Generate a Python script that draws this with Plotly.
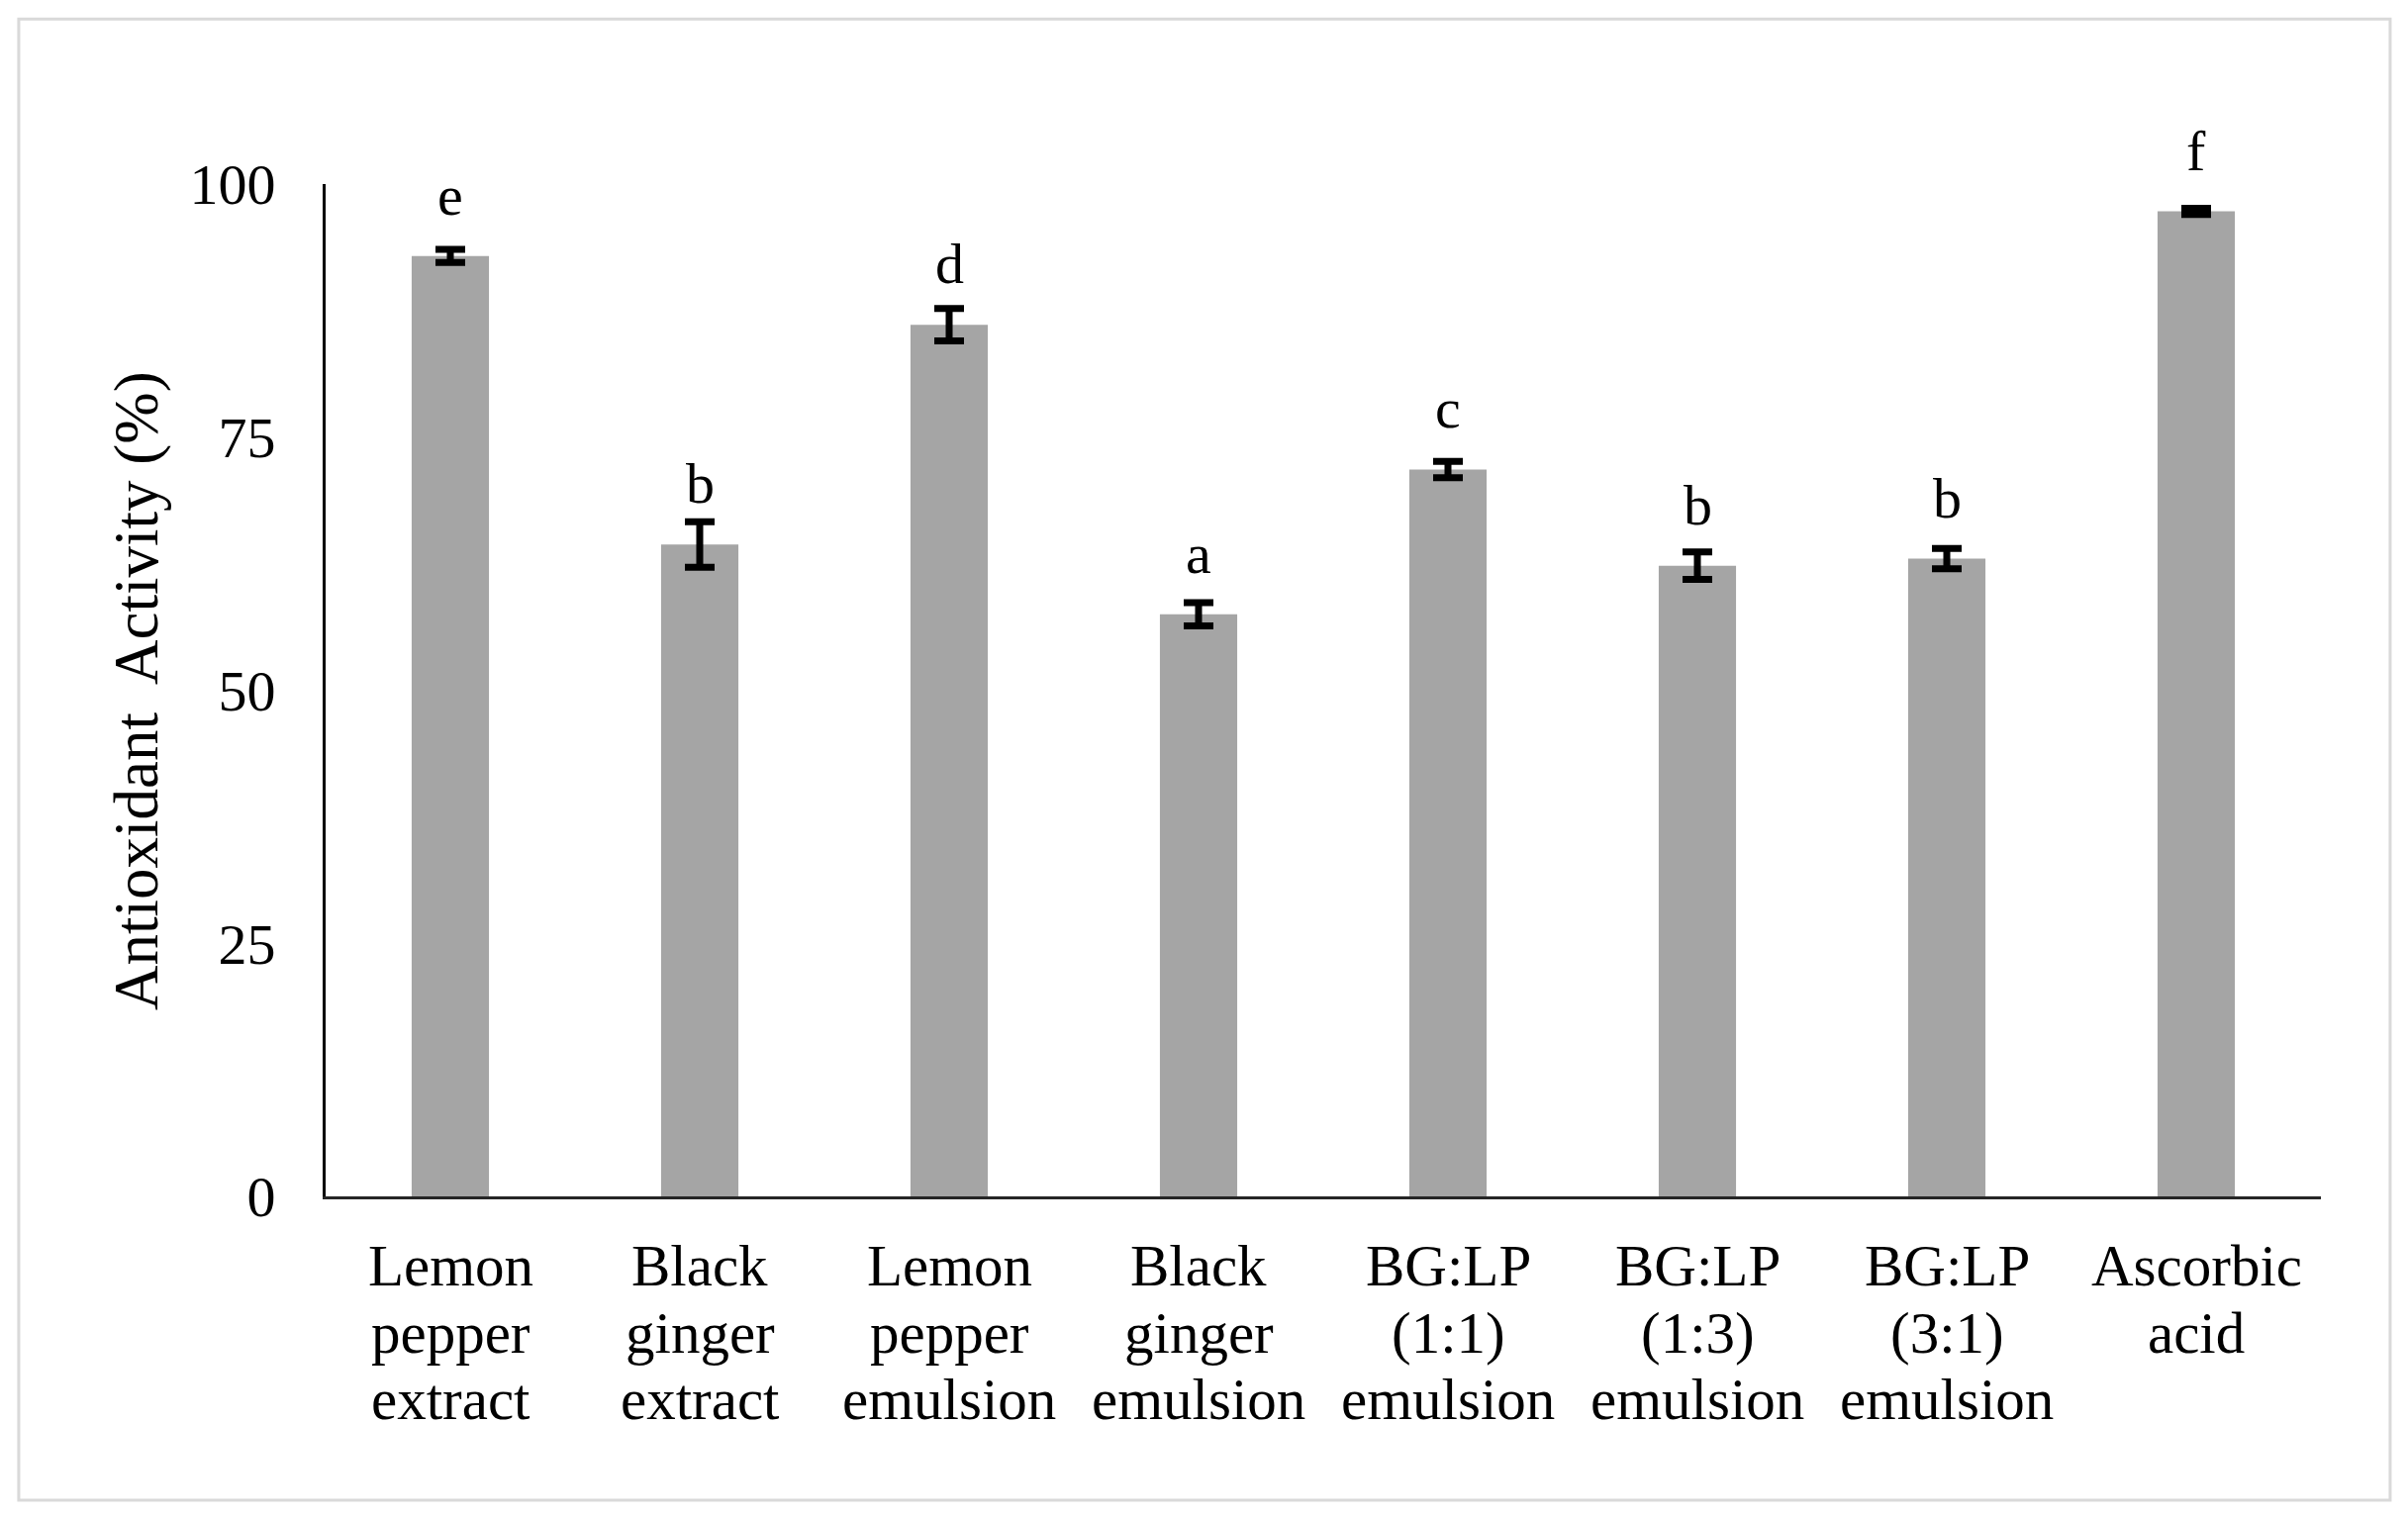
import plotly.graph_objects as go

categories = [
    "Lemon<br>pepper<br>extract",
    "Black<br>ginger<br>extract",
    "Lemon<br>pepper<br>emulsion",
    "Black<br>ginger<br>emulsion",
    "BG:LP<br>(1:1)<br>emulsion",
    "BG:LP<br>(1:3)<br>emulsion",
    "BG:LP<br>(3:1)<br>emulsion",
    "Ascorbic<br>acid",
]
activity = [92.9, 64.4, 86.1, 57.5, 71.8, 62.3, 63.0, 97.3]
errors = [0.65, 2.25, 1.6, 1.15, 0.8, 1.35, 1.0, 0.3]
letters = ["e", "b", "d", "a", "c", "b", "b", "f"]
y_ticks = [0, 25, 50, 75, 100]

FONT = "Liberation Serif, Times New Roman, serif"

fig = go.Figure()
fig.add_trace(go.Bar(
    x=categories,
    y=activity,
    marker=dict(color="#a5a5a5", line=dict(width=0)),
    error_y=dict(type="data", array=errors, visible=True,
                 color="#000000", thickness=7, width=15),
    showlegend=False,
))

# significance letters above the bars
for cat, val, let in zip(categories, activity, letters):
    fig.add_annotation(x=cat, y=val, text=let, showarrow=False,
                       xref="x", yref="y", yanchor="bottom",
                       yshift=27, font=dict(family=FONT, size=58, color="#000"))

# category labels, one line per annotation for tighter line spacing
for cat in categories:
    for i, line in enumerate(cat.split("<br>")):
        fig.add_annotation(x=cat, y=0, text=line, showarrow=False,
                           xref="x", yref="paper", xanchor="center",
                           yanchor="middle", yshift=-(70 + i * 67.5),
                           font=dict(family=FONT, size=59, color="#000"))

fig.add_annotation(text="Antioxidant  Activity (%)", textangle=-90,
                   xref="paper", yref="paper", x=-0.095, y=0.5,
                   xanchor="center", yanchor="middle", showarrow=False,
                   font=dict(family=FONT, size=63, color="#000"))

# outer light-gray frame
fig.add_shape(type="rect", xref="paper", yref="paper",
              x0=-0.1538, x1=1.0347, y0=-0.300, y1=1.163,
              line=dict(color="#d9d9d9", width=3), fillcolor="rgba(0,0,0,0)",
              layer="below")

fig.update_layout(
    width=2433, height=1533,
    margin=dict(l=321, r=96, t=178, b=332, autoexpand=False),
    paper_bgcolor="white", plot_bgcolor="white",
    bargap=0.69,
    font=dict(family=FONT, size=58, color="#000"),
    xaxis=dict(showline=True, linecolor="#262626", linewidth=3,
               ticks="", showgrid=False, zeroline=False,
               showticklabels=False, automargin=False),
    yaxis=dict(range=[0, 100], tickvals=y_ticks, showline=True,
               linecolor="#000", linewidth=3, ticks="", showgrid=False,
               zeroline=False, tickfont=dict(family=FONT, size=58, color="#000"),
               ticklabelstandoff=36, automargin=False),
)

fig.write_html("out.html")
